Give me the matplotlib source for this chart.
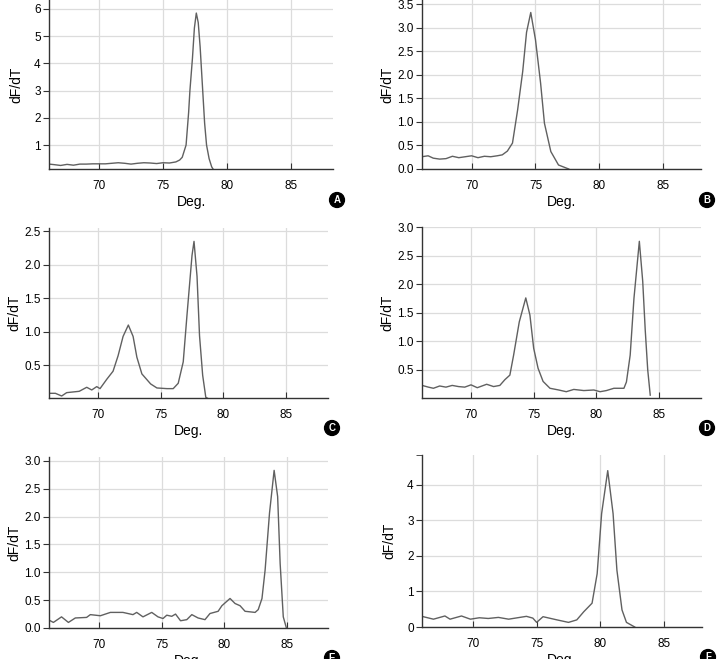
import numpy as np
import matplotlib.pyplot as plt

plt.rcParams['font.family'] = ['Liberation Sans', 'DejaVu Sans']

# ---- datos (temperatura, dF/dT) ----
xA = [66.1, 66.5, 67.0, 67.5, 68.0, 68.5, 69.0, 69.5, 70.0, 70.5, 71.0, 71.5, 72.0, 72.5, 73.0,
      73.5, 74.0, 74.5, 75.0, 75.5, 76.0, 76.3, 76.5, 76.8, 77.0, 77.1, 77.3, 77.45, 77.6, 77.75,
      77.9, 78.1, 78.25, 78.4, 78.6, 78.8, 79.0]
yA = [0.30, 0.28, 0.25, 0.29, 0.26, 0.30, 0.30, 0.31, 0.31, 0.31, 0.33, 0.35, 0.33, 0.30, 0.33,
      0.35, 0.34, 0.32, 0.35, 0.34, 0.38, 0.45, 0.55, 1.0, 2.2, 3.0, 4.2, 5.3, 5.85, 5.5,
      4.6, 3.0, 1.8, 1.0, 0.5, 0.2, 0.05]

xB = [66.1, 66.6, 67.0, 67.5, 68.0, 68.5, 69.0, 69.5, 70.0, 70.5, 71.0, 71.5, 72.0, 72.4, 72.8,
      73.2, 73.6, 74.0, 74.3, 74.63, 75.0, 75.4, 75.7, 76.2, 76.8, 77.6]
yB = [0.26, 0.28, 0.23, 0.21, 0.22, 0.27, 0.24, 0.26, 0.28, 0.24, 0.27, 0.26, 0.28, 0.30, 0.38,
      0.55, 1.25, 2.07, 2.90, 3.32, 2.74, 1.82, 0.97, 0.37, 0.085, 0.0]

xC = [66.1, 66.6, 67.1, 67.5, 68.0, 68.5, 69.1, 69.5, 69.9, 70.16, 70.7, 71.2, 71.6, 72.0, 72.42,
      72.8, 73.1, 73.5, 74.2, 74.7, 75.5, 76.0, 76.4, 76.8, 77.1, 77.5, 77.66, 77.9, 78.1, 78.35,
      78.6, 78.8]
yC = [0.08, 0.08, 0.04, 0.09, 0.10, 0.11, 0.17, 0.13, 0.18, 0.15, 0.29, 0.41, 0.64, 0.93, 1.10,
      0.93, 0.62, 0.37, 0.22, 0.16, 0.15, 0.15, 0.23, 0.55, 1.25, 2.14, 2.35, 1.83, 0.94, 0.35,
      0.02, 0.0]

xD = [66.1, 66.6, 67.0, 67.5, 68.0, 68.5, 69.0, 69.5, 70.0, 70.5, 71.25, 71.8, 72.3, 72.7, 73.1,
      73.4, 73.85, 74.37, 74.7, 75.0, 75.35, 75.75, 76.3, 77.0, 77.6, 78.2, 79.0, 79.8, 80.3, 80.8,
      81.4, 82.2, 82.4, 82.7, 83.0, 83.43, 83.7, 83.9, 84.1, 84.3]
yD = [0.23, 0.20, 0.18, 0.22, 0.20, 0.23, 0.21, 0.20, 0.24, 0.19, 0.25, 0.21, 0.23, 0.33, 0.41,
      0.76, 1.34, 1.76, 1.46, 0.88, 0.53, 0.30, 0.18, 0.15, 0.12, 0.16, 0.14, 0.15, 0.12, 0.14,
      0.18, 0.18, 0.29, 0.76, 1.75, 2.75, 2.05, 1.20, 0.50, 0.06]

xE = [66.1, 66.35, 67.0, 67.55, 68.1, 69.0, 69.3, 70.1, 70.9, 71.9, 72.7, 73.0, 73.5, 74.2, 74.7,
      75.1, 75.4, 75.8, 76.1, 76.5, 77.0, 77.4, 77.9, 78.45, 78.85, 79.5, 79.8, 80.45, 80.85, 81.25,
      81.65, 82.45, 82.7, 83.0, 83.25, 83.6, 83.97, 84.25, 84.45, 84.7, 84.95]
yE = [0.13, 0.10, 0.20, 0.10, 0.18, 0.19, 0.24, 0.22, 0.28, 0.28, 0.24, 0.28, 0.20, 0.28, 0.20,
      0.17, 0.23, 0.21, 0.25, 0.13, 0.15, 0.24, 0.18, 0.15, 0.26, 0.30, 0.40, 0.53, 0.44, 0.40,
      0.30, 0.28, 0.33, 0.53, 1.04, 2.06, 2.83, 2.36, 1.16, 0.20, 0.0]

xF = [66.1, 66.9, 67.8, 68.2, 69.1, 69.8, 70.5, 71.2, 72.0, 72.8, 73.5, 74.2, 74.7, 75.0, 75.5,
      76.6, 77.5, 78.15, 78.7, 79.35, 79.75, 80.1, 80.58, 81.0, 81.3, 81.7, 82.05, 82.7]
yF = [0.29, 0.22, 0.31, 0.22, 0.31, 0.22, 0.26, 0.24, 0.27, 0.22, 0.26, 0.30, 0.25, 0.13, 0.29,
      0.20, 0.13, 0.20, 0.43, 0.67, 1.50, 3.19, 4.40, 3.19, 1.60, 0.48, 0.13, 0.0]

# paneles: (x, y, caja en pixeles [izq, arriba, der, abajo], xlim, ylim, yticks, etiqueta)
paneles = [
    (xA, yA, [49, 0, 333, 169], (66.09, 88.28), (0.12, 6.33), [1, 2, 3, 4, 5, 6], 'A'),
    (xB, yB, [422, 0, 701, 169], (66.12, 87.95), (0.0, 3.585), [0, 0.5, 1, 1.5, 2, 2.5, 3, 3.5], 'B'),
    (xC, yC, [49, 228, 328, 398], (66.09, 88.35), (0.01, 2.55), [0.5, 1, 1.5, 2, 2.5], 'C'),
    (xD, yD, [422, 227, 701, 398], (66.09, 88.35), (0.01, 3.0), [0.5, 1, 1.5, 2, 2.5, 3], 'D'),
    (xE, yE, [49, 457, 328, 628], (66.0, 88.27), (0.0, 3.07), [0, 0.5, 1, 1.5, 2, 2.5, 3], 'E'),
    (xF, yF, [422, 455, 702, 627], (66.0, 87.98), (0.0, 4.84), [0, 1, 2, 3, 4], 'F'),
]

W, H = 721, 659
fig = plt.figure(figsize=(W / 100, H / 100), dpi=100)

for x, y, caja, xl, yl, yt, letra in paneles:
    l, t, r, b = caja
    ax = fig.add_axes([l / W, 1 - b / H, (r - l) / W, (b - t) / H])
    ax.plot(x, y, color='#606060', lw=1.0)
    ax.set_xlim(*xl)
    ax.set_ylim(*yl)
    ax.set_xticks([70, 75, 80, 85])
    ax.set_yticks(yt)
    if letra in 'AF':
        ax.set_yticklabels([str(int(v)) for v in yt])
    else:
        ax.set_yticklabels([f'{v:.1f}' for v in yt])
    ax.grid(True, color='#dcdcdc', lw=0.9)
    ax.set_axisbelow(True)
    for s in ['top', 'right']:
        ax.spines[s].set_visible(False)
    for s in ['left', 'bottom']:
        ax.spines[s].set_color('#333333')
        ax.spines[s].set_linewidth(1.0)
    ax.tick_params(axis='x', direction='in', length=4, labelsize=8.5, pad=8, color='#333333')
    ax.tick_params(axis='y', direction='out', length=4, labelsize=8.5, pad=2, color='#333333')
    ax.set_xlabel('Deg.', fontsize=10, labelpad=2)
    ax.set_ylabel('dF/dT', fontsize=10, labelpad=8 if letra in 'AF' else 2)
    if letra == 'F':
        ax.set_yticks([yl[1]], minor=True)
        ax.tick_params(axis='y', which='minor', length=4, color='#333333')
    # circulo con la letra del panel
    cx = r + 4 if letra in 'ACE' else r + 6
    cy = b + 31 if letra in 'AB' else b + 30
    fig.text(cx / W, 1 - cy / H, letra, ha='center', va='center', fontsize=7,
             fontweight='bold', color='white',
             bbox=dict(boxstyle='circle,pad=0.25', fc='black', ec='black'))

fig.savefig('out.png', dpi=100)
